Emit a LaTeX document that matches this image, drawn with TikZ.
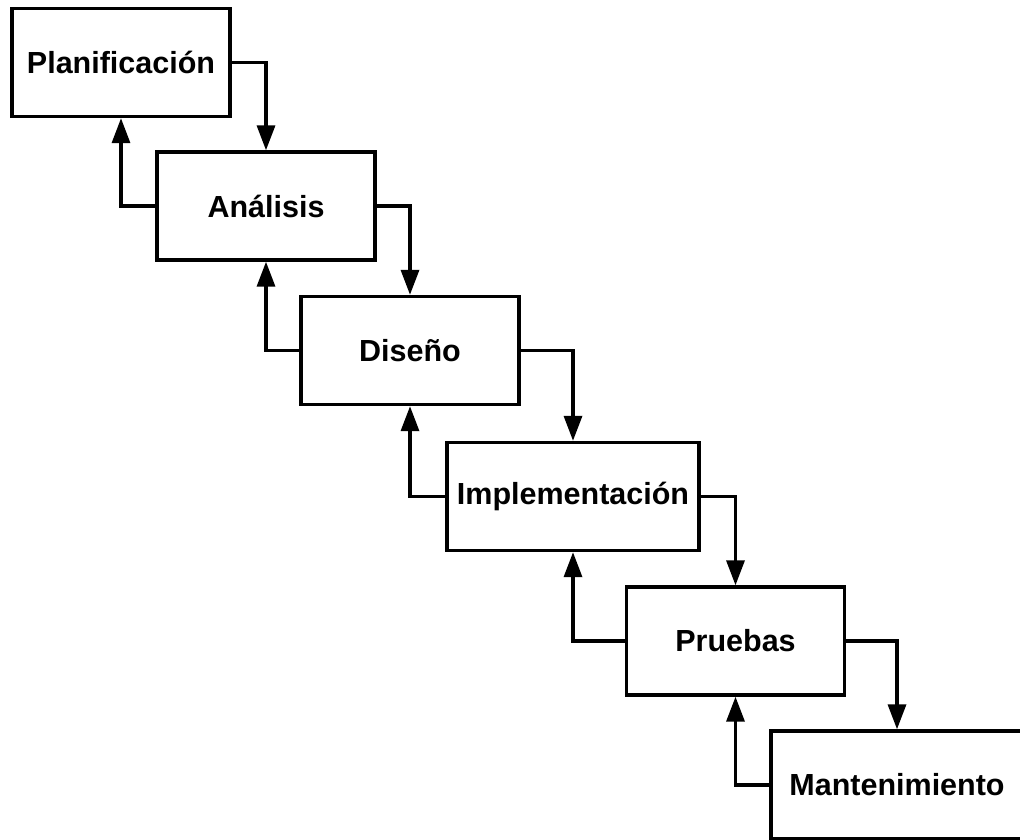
\documentclass[tikz,border=0pt]{standalone}
\usepackage{fontspec}
\setmainfont{Liberation Sans}
\usetikzlibrary{arrows.meta}
\begin{document}
\begin{tikzpicture}[x=1pt,y=-1pt,
  phase/.style={draw=black, line width=3.4pt, fill=white, inner sep=0pt,
    minimum width=218pt, minimum height=108pt,
    font=\fontsize{30.5}{36}\selectfont\bfseries},
  wide/.style={phase, minimum width=252pt},
  arr/.style={line width=3.4pt, -{Triangle[length=25pt,width=18pt]}}]
\useasboundingbox (0,0) rectangle (1020,839);
\begin{scope}
\clip (0,0) rectangle (1020,839);
\node[phase] (P) at (121,62.5) {Planificación};
\node[phase] (A) at (266,206) {Análisis};
\node[phase] (D) at (410,350.5) {Diseño};
\node[wide]  (I) at (573,496.5) {Implementación};
\node[phase] (R) at (735.5,641) {Pruebas};
\node[wide]  (M) at (897,785) {Mantenimiento};
\draw[arr] (P.east) -| (A.north);
\draw[arr] (A.east) -| (D.north);
\draw[arr] (D.east) -| (I.north);
\draw[arr] (I.east) -| (R.north);
\draw[arr] (R.east) -| (M.north);
\draw[arr] (A.west) -| (P.south);
\draw[arr] (D.west) -| (A.south);
\draw[arr] (I.west) -| (D.south);
\draw[arr] (R.west) -| (I.south);
\draw[arr] (M.west) -| (R.south);
\end{scope}
\end{tikzpicture}
\end{document}
